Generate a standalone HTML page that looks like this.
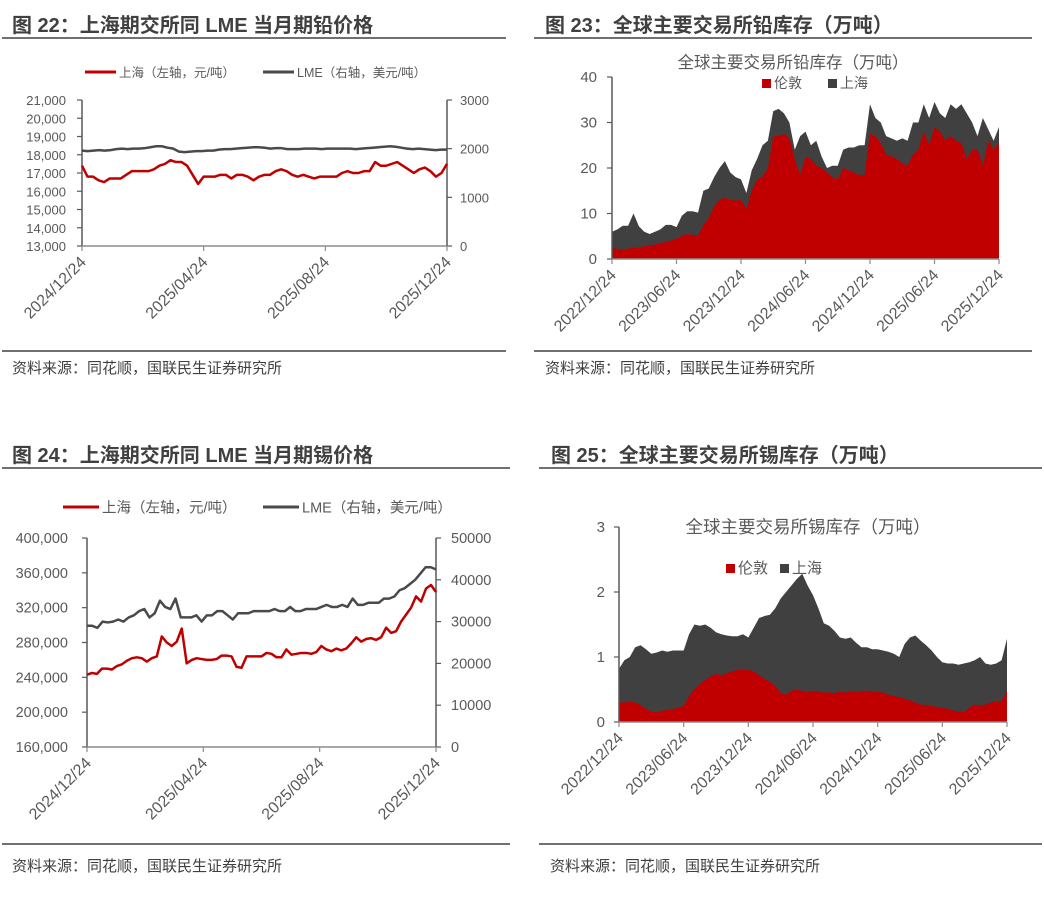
<!DOCTYPE html>
<html><head><meta charset="utf-8"><style>
html,body{margin:0;padding:0;background:#fff;}
svg{display:block;font-family:"Liberation Sans","Noto Sans CJK SC",sans-serif;}
</style></head><body>
<svg id="root" width="1044" height="898" viewBox="0 0 1044 898">
<g fill="#404040" font-weight="bold" font-size="20">
<text x="12" y="32">图 22：上海期交所同 LME 当月期铅价格</text>
<text x="545" y="32">图 23：全球主要交易所铅库存（万吨）</text>
<text x="12" y="462">图 24：上海期交所同 LME 当月期锡价格</text>
<text x="551" y="462">图 25：全球主要交易所锡库存（万吨）</text>
</g>
<g stroke="#404040" stroke-width="1.5">
<line x1="2" y1="38" x2="506" y2="38"/><line x1="534" y1="38" x2="1032" y2="38"/>
<line x1="2" y1="351" x2="506" y2="351"/><line x1="534" y1="351" x2="1032" y2="351"/>
<line x1="2" y1="468" x2="510" y2="468"/><line x1="539" y1="468" x2="1042" y2="468"/>
<line x1="2" y1="844" x2="510" y2="844"/><line x1="539" y1="844" x2="1042" y2="844"/>
</g>
<g fill="#404040" font-size="15">
<text x="12" y="373">资料来源：同花顺，国联民生证券研究所</text>
<text x="545" y="373">资料来源：同花顺，国联民生证券研究所</text>
<text x="12" y="871">资料来源：同花顺，国联民生证券研究所</text>
<text x="550" y="871">资料来源：同花顺，国联民生证券研究所</text>
</g>
</svg>
<script>
// ---- Chart 22 data (lead prices) ----
const leadDates = ["2024/12/24","2025/04/24","2025/08/24","2025/12/24"];
const leadShTicks = [13000,14000,15000,16000,17000,18000,19000,20000,21000];
const leadLmeTicks = [0,1000,2000,3000];
const leadSh = [17400,16800,16800,16600,16500,16700,16700,16700,16900,17100,17100,17100,17100,17200,17400,17500,17700,17600,17600,17400,16900,16400,16800,16800,16800,16900,16900,16700,16900,16900,16800,16600,16800,16900,16900,17100,17200,17100,16900,16800,16900,16800,16700,16800,16800,16800,16800,17000,17100,17000,17000,17100,17100,17600,17400,17400,17500,17600,17400,17200,17000,17200,17300,17100,16800,17000,17500];
const leadLme = [1960,1950,1960,1970,1960,1970,1990,2000,1990,2000,2000,2010,2030,2050,2050,2020,2000,1940,1930,1940,1950,1950,1960,1960,1980,1990,1990,2000,2010,2020,2030,2030,2020,2000,2010,2010,1990,1990,1990,2000,2000,2000,1990,2000,2000,2000,2000,2000,1990,2000,2010,2020,2030,2040,2050,2040,2020,2000,1990,2000,1990,1980,1970,1980,1980];
// ---- Chart 24 data (tin prices) ----
const tinDates = ["2024/12/24","2025/04/24","2025/08/24","2025/12/24"];
const tinShTicks = [160000,200000,240000,280000,320000,360000,400000];
const tinLmeTicks = [0,10000,20000,30000,40000,50000];
const tinSh = [243000,245000,244000,250000,250000,249000,253000,255000,259000,262000,263000,262000,258000,262000,264000,287000,280000,276000,281000,296000,256000,260000,262000,261000,260000,260000,261000,265000,265000,264000,252000,251000,264000,264000,264000,264000,268000,267000,263000,263000,272000,266000,267000,268000,268000,267000,269000,276000,272000,270000,273000,271000,273000,279000,286000,281000,284000,285000,283000,286000,297000,291000,293000,304000,312000,320000,333000,327000,342000,346000,338000];
const tinLme = [29000,29000,28500,30000,29800,30000,30500,30000,31000,31500,32500,33000,31000,32000,35000,33500,33000,35500,31000,31000,31000,31500,30000,31500,31500,32500,32500,31500,30500,32000,32000,32000,32500,32500,32500,32500,33000,32500,32500,33500,32500,32500,33000,33000,33000,33500,34000,33500,33500,34000,33500,35500,34000,34000,34500,34500,34500,35500,35500,36000,37500,38000,39000,40000,41500,43000,43000,42500];
// ---- Chart 23 data (lead stocks) ----
const stockDates = ["2022/12/24","2023/06/24","2023/12/24","2024/06/24","2024/12/24","2025/06/24","2025/12/24"];
const leadStockTicks = [0,10,20,30,40];
const leadLondon = [2.5,2.2,2.0,2.3,2.5,2.5,2.8,3.0,3.2,3.5,3.8,4.0, 4.5,5.0,5.5,5.3,5.2,7.5,9,11.5,13,13.5,13,12.8, 13,11,15,17.5,18,20,27,27,27.5,26.5,22,18.5, 22.5,22,20.5,20,19,18,17.5,20,19.5,19,18.5,18.5, 27.5,27,25.5,23,22.5,22,21,20.5,23,24,28,25, 29,28,26,27,26,25.5,22,24,24,20.5,26,24,25.5];
const leadShanghai = [3.5,4.3,5.3,5.0,7.5,4.7,3.2,2.5,2.8,3.0,3.7,3.5, 2.5,4.5,5.0,5.2,5.0,7.5,6.5,6.5,7.0,8.0,6.0,5.2, 4.5,3.5,4.5,4.5,7.0,6.0,5.5,6.0,4.5,3.5,2.0,8.5, 5.5,3,5.5,2.5,1,2.5,3,4,5,5.5,6.5,6.5, 6.5,4,4.5,4,4,4,5.5,5.5,7,6,6,6, 5.5,4,5,7,7,8.5,10,6,3,10.5,2.5,2,3.5];
// ---- Chart 25 data (tin stocks) ----
const tinStockTicks = [0,1,2,3];
const tinLondon = [.3,.3,.31,.3,.26,.2,.16,.15,.17,.19,.2,.22, .25,.4,.5,.58,.65,.7,.74,.72,.75,.78,.8,.8, .8,.78,.72,.66,.62,.55,.45,.42,.48,.5,.48,.46, .48,.47,.45,.46,.44,.47,.45,.48,.46,.48,.48,.47, .47,.45,.42,.4,.38,.36,.33,.3,.27,.26,.25,.23, .22,.2,.18,.16,.15,.22,.27,.25,.27,.3,.32,.32,.48];
const tinShanghai = [.52,.65,.69,.85,.92,.92,.89,.92,.93,.89,.9,.88, .85,.95,1.0,.9,.85,.75,.64,.63,.58,.54,.52,.55, .5,.67,.88,.97,1.03,1.2,1.45,1.58,1.62,1.7,1.8,1.64, 1.47,1.28,1.07,1.02,.96,.83,.83,.82,.76,.67,.67,.65, .65,.65,.66,.65,.62,.84,.97,1.03,.98,.92,.85,.77, .7,.7,.72,.72,.75,.7,.68,.75,.63,.58,.58,.63,.8];

const NS="http://www.w3.org/2000/svg";
const root=document.getElementById('root');
function mk(tag,attrs,parent){const e=document.createElementNS(NS,tag);for(const k in attrs)e.setAttribute(k,attrs[k]);(parent||root).appendChild(e);return e;}
function fmt(v,comma){return comma?v.toLocaleString('en-US'):String(v);}
function scale(d0,d1,r0,r1){return v=>r0+(v-d0)/(d1-d0)*(r1-r0);}

function xAxis(g,x0,x1,yb,labels,fs,dy){
  const ax=mk('line',{x1:x0,y1:yb,x2:x1,y2:yb,stroke:'#8c8c8c','stroke-width':1.5},g);
  
  
  labels.forEach((l,i)=>{
    const x=x0+(x1-x0)*i/(labels.length-1);
    const t=mk('line',{x1:x,y1:yb,x2:x,y2:yb+5,stroke:'#8c8c8c','stroke-width':1.2},g);
    
    
    const tx=mk('text',{x:x+5,y:yb+dy,'text-anchor':'end','font-size':fs,fill:'#595959',transform:`rotate(-45 ${x+5} ${yb+dy})`},g);
    tx.textContent=l;
    
    
  });
}
function yAxis(g,x,y0,y1,ticks,side,lx,fs,comma){
  const ys=scale(ticks[0],ticks[ticks.length-1],y0,y1);
  const ax=mk('line',{x1:x,y1:y0,x2:x,y2:y1,stroke:'#595959','stroke-width':1.5},g);
  
  
  ticks.forEach(v=>{
    const y=ys(v);
    const t=mk('line',{x1:x,y1:y,x2:x+5*side,y2:y,stroke:'#595959','stroke-width':1.2},g);
    
    
    const tx=mk('text',{x:lx,y:y+5,'text-anchor':side<0?'end':'start','font-size':fs,fill:'#595959'},g);
    tx.textContent=fmt(v,comma);
    
    
  });
  return ys;
}
function line(g,vals,xs,ys,color,name){
  const n=vals.length;
  const pts=vals.map((v,i)=>`${xs(i/(n-1))},${ys(v)}`).join(' ');
  const p=mk('polyline',{points:pts,fill:'none',stroke:color,'stroke-width':2.5,'stroke-linejoin':'round'},g);
  
  
}
function legendLine(g,x,y,w,color,label,fs,name){
  mk('line',{x1:x,y1:y,x2:x+w,y2:y,stroke:color,'stroke-width':3},g);
  const t=mk('text',{x:x+w+3,y:y+fs*0.38,'font-size':fs,fill:'#595959'},g);
  t.textContent=label;
  
  
}
function priceChart(cfg){
  const g=mk('g',{});
  
  
  const xs=scale(0,1,cfg.x0,cfg.x1);
  const yl=yAxis(g,cfg.x0,cfg.yb,cfg.yt,cfg.lt,-1,cfg.llx,cfg.fs,true);
  const yr=yAxis(g,cfg.x1,cfg.yb,cfg.yt,cfg.rt,1,cfg.rlx,cfg.fs,false);
  xAxis(g,cfg.x0,cfg.x1,cfg.yb,cfg.dates,cfg.xfs,17);
  line(g,cfg.lme,xs,yr,'#4a4a4a','lme-series-line');
  line(g,cfg.sh,xs,yl,'#c00000','shanghai-series-line');
  legendLine(g,cfg.lg[0],cfg.lg[2],cfg.lg[3],'#c00000','上海（左轴，元/吨）',cfg.lfs,'legend-shanghai');
  legendLine(g,cfg.lg[1],cfg.lg[2],cfg.lg[3],'#4a4a4a','LME（右轴，美元/吨）',cfg.lfs,'legend-lme');
}
priceChart({name:'lead-price-chart',x0:82,x1:447,yb:246,yt:100,lt:leadShTicks,rt:leadLmeTicks,llx:66,rlx:460,fs:13,xfs:16,dates:leadDates,sh:leadSh,lme:leadLme,lg:[85,263,72,31],lfs:12.5});
priceChart({name:'tin-price-chart',x0:87,x1:436,yb:747,yt:538,lt:tinShTicks,rt:tinLmeTicks,llx:68,rlx:451,fs:14.5,xfs:16,dates:tinDates,sh:tinSh,lme:tinLme,lg:[63,263,507,36],lfs:14.5});

function stockChart(cfg){
  const g=mk('g',{});
  
  
  const n=cfg.lon.length;
  const xs=i=>cfg.x0+(cfg.x1-cfg.x0)*i/(n-1);
  const ys=scale(cfg.ticks[0],cfg.ticks[cfg.ticks.length-1],cfg.yb,cfg.yt);
  let top=[],mid=[];
  cfg.lon.forEach((v,i)=>{mid.push(`${xs(i)},${ys(v)}`);top.push(`${xs(i)},${ys(v+cfg.sh[i])}`);});
  const gray=mk('polygon',{points:`${cfg.x0},${cfg.yb} `+top.join(' ')+` ${cfg.x1},${cfg.yb}`,fill:'#404040'},g);
  
  
  const red=mk('polygon',{points:`${cfg.x0},${cfg.yb} `+mid.join(' ')+` ${cfg.x1},${cfg.yb}`,fill:'#c00000'},g);
  
  
  yAxis(g,cfg.x0,cfg.yb,cfg.yt,cfg.ticks,-1,cfg.lx,cfg.fs,false);
  xAxis(g,cfg.x0,cfg.x1,cfg.yb,cfg.dates,16,17);
  const t=mk('text',{x:cfg.tx,y:cfg.ty,'text-anchor':'middle','font-size':cfg.tfs,fill:'#595959'},g);
  t.textContent=cfg.title;
  
  
  const L=cfg.leg;
  mk('rect',{x:L[0],y:L[2]-9,width:9,height:9,fill:'#c00000'},g);
  const a=mk('text',{x:L[0]+12,y:L[2],'font-size':cfg.lfs,fill:'#595959'},g);a.textContent='伦敦';
  
  
  mk('rect',{x:L[1],y:L[2]-9,width:9,height:9,fill:'#404040'},g);
  const b=mk('text',{x:L[1]+12,y:L[2],'font-size':cfg.lfs,fill:'#595959'},g);b.textContent='上海';
  
  
}
stockChart({name:'lead-stock-chart',x0:612,x1:999,yb:259,yt:77,ticks:leadStockTicks,lx:597,fs:15,dates:stockDates,lon:leadLondon,sh:leadShanghai,tx:793,ty:68,tfs:16.5,title:'全球主要交易所铅库存（万吨）',leg:[762,828,88],lfs:14});
stockChart({name:'tin-stock-chart',x0:619,x1:1007,yb:722,yt:527,ticks:tinStockTicks,lx:605,fs:15,dates:stockDates,lon:tinLondon,sh:tinShanghai,tx:808,ty:533,tfs:17.5,title:'全球主要交易所锡库存（万吨）',leg:[726,780,573],lfs:15});
</script>
</body></html>
